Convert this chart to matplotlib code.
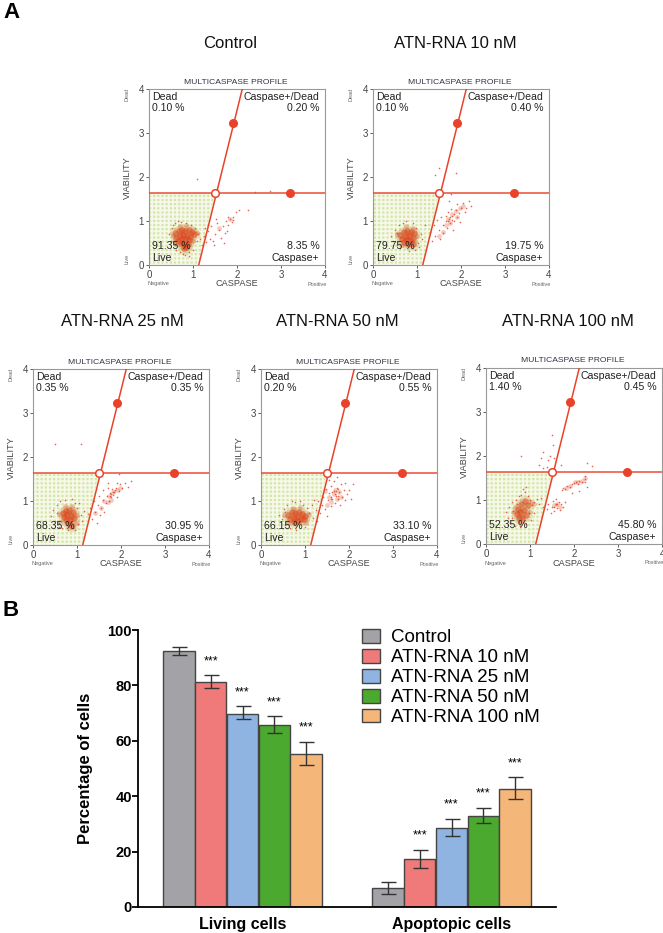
#!/usr/bin/env python3
import matplotlib
matplotlib.use("Agg")
import matplotlib.pyplot as plt
from matplotlib.patches import Polygon

plt.rcParams['font.family'] = ['Liberation Sans', 'DejaVu Sans']
plt.rcParams['hatch.linewidth'] = 1.3

WIDTH = 663
HEIGHT = 933

RED = '#e8432a'
DOT = '#e2401f'

# flow cytometry panels: dense core, thinner part of the clouds, then the loose events
control_core = [(.6, .72), (.68, .78), (.75, .8), (.82, .78), (.9, .8), (.98, .76), (1.02, .7),
                (.62, .62), (.7, .66), (.78, .68), (.86, .66), (.94, .64), (.66, .55), (.74, .58),
                (.82, .6), (.9, .56), (.72, .5), (.8, .48), (.88, .47), (.8, .38), (.85, .4)]
control_mid = [(.55, .68), (1.08, .72), (.7, .88), (.85, .9), (1.0, .55), (.6, .5), (1.85, 1.05), (1.6, .85)]
control_loose = [(.45, .7), (.5, .55), (.52, .85), (.55, .9), (.58, .45), (.6, .95), (.62, .35),
                 (.65, 1.0), (.7, .3), (.72, .98), (.78, .25), (.85, .95), (.9, .3), (.95, .92),
                 (1.0, .35), (1.05, .85), (1.08, .55), (1.12, .7), (1.15, .6), (.82, .22), (.9, .2),
                 (1.25, .65), (1.3, .52), (1.33, .78), (1.38, .6), (1.42, .88), (1.47, .45), (1.5, .7),
                 (1.55, .95), (1.6, .8), (1.63, .62), (1.68, .88), (1.72, .72), (1.75, 1.0), (1.8, .9),
                 (1.85, 1.05), (1.88, .98), (1.92, 1.1), (1.97, 1.2), (2.05, 1.25), (1.35, .9),
                 (1.45, .55), (1.52, 1.05), (1.7, .5), (1.28, .85), (1.2, .45), (2.25, 1.25),
                 (2.75, 1.68), (2.4, 1.65), (1.1, 1.95), (1.8, 1.1), (1.9, 1.02), (1.78, .78)]

atn10_core = [(.62, .68), (.7, .74), (.78, .78), (.86, .76), (.94, .72), (.66, .6), (.74, .64),
              (.82, .66), (.9, .62), (.7, .52), (.78, .56), (.86, .54), (.8, .47), (.9, .48)]
atn10_mid = [(.55, .7), (1.0, .65), (.75, .88), (.9, .85), (.65, .45), (1.7, 1.05), (1.8, 1.15), (1.75, .95),
             (1.88, 1.22), (1.92, 1.08), (1.65, .9), (1.6, .75), (1.98, 1.3), (2.05, 1.35), (1.5, .65)]
atn10_loose = [(.4, .65), (.45, .55), (.5, .8), (.55, .45), (.58, .9), (.62, .38), (.68, .95),
               (.75, 1.0), (.82, .32), (.9, .95), (.98, .85), (1.02, .5), (1.08, .7), (1.12, .6),
               (1.18, .9), (.95, .35), (.55, .72), (1.05, .42),
               (1.3, .75), (1.35, .55), (1.38, .9), (1.42, .65), (1.45, 1.02), (1.5, .8), (1.52, .6),
               (1.55, 1.1), (1.58, .92), (1.6, .72), (1.65, 1.0), (1.68, .85), (1.7, 1.2), (1.72, 1.05),
               (1.75, .95), (1.78, 1.28), (1.8, 1.12), (1.82, .8), (1.85, 1.0), (1.88, 1.25), (1.9, 1.1),
               (1.92, 1.38), (1.95, 1.18), (1.98, .98), (2.0, 1.3), (2.05, 1.42), (2.08, 1.2), (2.12, 1.3),
               (2.18, 1.45), (2.22, 1.35), (1.72, 1.45), (1.78, 1.62), (1.5, 2.2), (1.42, 2.05),
               (1.88, 2.1), (1.7, 1.0), (1.74, 1.1), (1.66, 1.12), (1.8, 1.02), (1.84, 1.15)]

atn25_core = [(.68, .72), (.75, .78), (.82, .8), (.9, .74), (.7, .64), (.78, .68), (.86, .66),
              (.94, .62), (.76, .56), (.84, .56), (.82, .47), (.88, .44)]
atn25_mid = [(.58, .7), (1.0, .68), (.72, .88), (.88, .88), (.62, .52), (1.0, .5), (1.72, 1.12), (1.82, 1.2),
             (1.9, 1.24), (1.62, 1.0), (1.7, .98), (1.55, .85), (1.98, 1.3), (1.78, 1.02), (1.42, .72)]
atn25_loose = [(.42, .65), (.45, .8), (.5, .55), (.55, .9), (.58, .42), (.62, 1.0), (.65, .38),
               (.72, 1.02), (.8, .35), (.88, 1.05), (.95, .95), (1.0, .85), (1.02, .48), (1.08, .68),
               (1.12, .55), (1.15, .78), (.95, .35), (.55, .72), (.6, .5), (1.05, .95),
               (1.25, .7), (1.3, .85), (1.35, .6), (1.38, 1.0), (1.42, .75), (1.45, .5), (1.48, .92),
               (1.5, 1.12), (1.52, .68), (1.55, .85), (1.58, 1.02), (1.6, 1.25), (1.62, .75), (1.65, .95),
               (1.68, 1.12), (1.7, 1.3), (1.72, 1.0), (1.75, 1.18), (1.78, 1.08), (1.8, 1.28), (1.82, 1.14),
               (1.85, 1.2), (1.88, 1.3), (1.9, 1.1), (1.95, 1.22), (1.98, 1.38), (2.02, 1.3), (2.08, 1.42),
               (2.15, 1.32), (2.22, 1.45), (1.7, 1.4), (1.9, 1.42), (1.08, 2.3), (.5, 2.3), (1.95, 1.62),
               (1.78, 1.15), (1.82, 1.2), (1.74, 1.12), (1.86, 1.25)]

atn50_core = [(.62, .68), (.7, .74), (.78, .72), (.86, .74), (.94, .7), (1.0, .66), (.66, .6),
              (.74, .62), (.82, .64), (.9, .6), (.98, .58), (.76, .52), (.84, .54)]
atn50_mid = [(.52, .68), (1.08, .7), (.72, .85), (.88, .86), (.62, .5), (1.02, .5), (1.55, 1.1), (1.65, 1.15),
             (1.72, 1.05), (1.6, .98), (1.78, 1.2), (1.68, 1.25), (1.5, .92), (1.82, 1.08), (1.45, 1.22)]
atn50_loose = [(.42, .68), (.48, .58), (.52, .82), (.55, .45), (.6, .92), (.65, .38), (.7, 1.0),
               (.78, .98), (.8, .35), (.88, 1.0), (.95, .92), (1.0, .42), (1.05, .85), (1.1, .72),
               (1.15, .92), (1.18, .62), (1.2, 1.02), (1.25, .8), (.55, .75), (1.28, .55),
               (1.3, 1.0), (1.35, .72), (1.38, .9), (1.42, 1.1), (1.45, .82), (1.48, 1.28), (1.5, .65),
               (1.52, 1.02), (1.55, 1.18), (1.58, .88), (1.6, 1.35), (1.62, 1.05), (1.65, 1.22), (1.68, .95),
               (1.7, 1.12), (1.72, 1.3), (1.75, 1.05), (1.78, 1.2), (1.8, .9), (1.82, 1.38), (1.85, 1.1),
               (1.88, 1.25), (1.9, 1.02), (1.92, 1.42), (1.95, 1.15), (2.0, 1.25), (2.05, 1.05), (2.1, 1.38),
               (1.55, 1.48), (1.65, 1.45), (1.72, 1.55), (1.6, 1.1), (1.68, 1.15), (1.76, 1.12), (1.62, 1.2),
               (1.7, 1.22), (1.58, 1.04), (1.74, 1.28)]

atn100_core = [(.72, .8), (.8, .92), (.88, .98), (.96, .88), (.7, .68), (.78, .72), (.86, .78),
               (.82, .6), (.9, .66), (.74, .58)]
atn100_mid = [(.62, .72), (1.02, .95), (1.1, .9), (.66, .85), (1.0, .72), (.78, .48), (1.55, .88), (1.62, .92),
              (1.68, .84), (2.02, 1.4), (2.1, 1.42), (2.18, 1.44), (2.26, 1.5), (1.82, 1.28), (1.92, 1.32)]
atn100_loose = [(.45, .72), (.5, .6), (.52, .85), (.55, .48), (.58, .95), (.62, .75), (.65, .42),
                (.68, 1.0), (.72, .5), (.75, 1.08), (.78, .4), (.8, 1.12), (.85, .5), (.88, 1.18),
                (.92, .45), (.95, 1.1), (.98, .7), (1.0, 1.0), (1.02, .55), (1.05, .88), (1.08, .95),
                (1.1, .7), (1.15, 1.02), (1.2, .9), (1.25, 1.05), (1.3, .85), (.6, .6), (.7, .9),
                (.85, 1.25), (.92, 1.3), (1.38, .8), (1.42, .9), (1.48, .7), (1.5, .85), (1.52, .98),
                (1.55, .75), (1.58, .9), (1.6, 1.02), (1.62, .82), (1.65, .95), (1.68, .78), (1.7, .9),
                (1.75, .85), (1.8, .95), (1.55, .85), (1.62, .92),
                (1.72, 1.22), (1.76, 1.28), (1.8, 1.25), (1.85, 1.32), (1.9, 1.3), (1.95, 1.36), (2.0, 1.38),
                (2.04, 1.42), (2.08, 1.36), (2.12, 1.44), (2.18, 1.42), (2.25, 1.48), (2.26, 1.55),
                (2.24, 1.42), (2.3, 1.3), (1.95, 1.15), (2.12, 1.2),
                (1.2, 1.8), (1.25, 1.95), (1.3, 2.1), (1.38, 1.75), (1.42, 1.9), (1.45, 2.0), (1.3, 1.72),
                (1.52, 2.25), (1.5, 2.48), (1.55, 1.95), (.8, 2.0), (1.7, 1.8), (2.3, 1.85), (2.42, 1.78)]

panel_titles = ["Control", "ATN-RNA 10 nM", "ATN-RNA 25 nM", "ATN-RNA 50 nM", "ATN-RNA 100 nM"]
panel_core = [control_core, atn10_core, atn25_core, atn50_core, atn100_core]
panel_mid = [control_mid, atn10_mid, atn25_mid, atn50_mid, atn100_mid]
panel_loose = [control_loose, atn10_loose, atn25_loose, atn50_loose, atn100_loose]
dead_pct = ["0.10 %", "0.10 %", "0.35 %", "0.20 %", "1.40 %"]
late_pct = ["0.20 %", "0.40 %", "0.35 %", "0.55 %", "0.45 %"]
live_pct = ["91.35 %", "79.75 %", "68.35 %", "66.15 %", "52.35 %"]
early_pct = ["8.35 %", "19.75 %", "30.95 %", "33.10 %", "45.80 %"]

# left edge and top edge of every gate plot, pixels
panel_left = [149, 373, 33, 261, 486]
panel_top = [89, 89, 369, 369, 368]
title_centre = [230, 455, 122, 337, 568]
title_y = [43, 43, 322, 322, 322]

# bar chart
bar_labels = ["Control", "ATN-RNA 10 nM", "ATN-RNA 25 nM", "ATN-RNA 50 nM", "ATN-RNA 100 nM"]
bar_colors = ['#a3a2a6', '#f07a79', '#8fb4e2', '#4aa92e', '#f4b779']
groups = ["Living cells", "Apoptopic cells"]
living = [92.3, 81.4, 69.8, 65.7, 55.2]
living_low = [91.0, 79.0, 67.7, 62.7, 51.1]
living_high = [93.9, 83.8, 72.4, 69.0, 59.7]
apoptotic = [6.7, 17.3, 28.5, 32.8, 42.7]
apoptotic_low = [4.8, 14.0, 25.5, 30.2, 38.9]
apoptotic_high = [8.9, 20.7, 31.9, 35.9, 47.0]
significant = [False, True, True, True, True]


def px_axes(fig, left, top, right, bottom):
    return fig.add_axes([left / WIDTH, 1 - bottom / HEIGHT, (right - left) / WIDTH, (bottom - top) / HEIGHT])


def px_text(fig, x, y, s, **kw):
    fig.text(x / WIDTH, 1 - y / HEIGHT, s, **kw)


def gate_panel(fig, i):
    left, top = panel_left[i], panel_top[i]
    ax = px_axes(fig, left, top, left + 176, top + 176)
    ax.set_xlim(0, 4)
    ax.set_ylim(0, 4)
    ax.set_xticks([0, 1, 2, 3, 4])
    ax.set_yticks([0, 1, 2, 3, 4])
    ax.tick_params(labelsize=7, length=2, width=0.6, pad=1.5, colors='#444444')
    for side in ax.spines:
        ax.spines[side].set_linewidth(0.8)
        ax.spines[side].set_color('#999999')

    ax.add_patch(Polygon([(0, 0), (1.13, 0), (1.5, 1.63), (0, 1.63)], facecolor='#d6e5ab',
                         edgecolor='#f6f9ea', hatch='++++', linewidth=0, zorder=1))

    core_x, core_y = zip(*panel_core[i])
    mid_x, mid_y = zip(*panel_mid[i])
    loose_x, loose_y = zip(*panel_loose[i])
    ax.scatter(core_x, core_y, s=70, color='#c9a05a', alpha=0.28, linewidths=0, zorder=2)
    ax.scatter(core_x, core_y, s=22, color=DOT, alpha=0.5, linewidths=0, zorder=2)
    ax.scatter(mid_x, mid_y, s=12, color=DOT, alpha=0.28, linewidths=0, zorder=2)
    ax.scatter(loose_x, loose_y, s=1.4, color=DOT, alpha=0.8, linewidths=0, zorder=2)

    ax.plot([1.13, 2.12], [0, 4], color=RED, lw=1.1, zorder=3)
    ax.axhline(1.63, color=RED, lw=1.3, alpha=0.8, zorder=3)
    ax.plot([1.9, 3.2], [3.23, 1.63], ls='none', marker='o', ms=6.5, color=RED, mew=0, zorder=4)
    ax.plot([1.5], [1.63], ls='none', marker='o', ms=5.5, mfc='white', mec=RED, mew=1.1, zorder=4)

    tc = '#222222'
    ax.text(0.06, 3.82, "Dead", fontsize=7.6, color=tc, va='center')
    ax.text(0.06, 3.57, dead_pct[i], fontsize=7.6, color=tc, va='center')
    ax.text(3.87, 3.82, "Caspase+/Dead", fontsize=7.6, color=tc, va='center', ha='right')
    ax.text(3.87, 3.57, late_pct[i], fontsize=7.6, color=tc, va='center', ha='right')
    ax.text(0.06, 0.43, live_pct[i], fontsize=7.6, color=tc, va='center', zorder=5)
    ax.text(0.06, 0.16, "Live", fontsize=7.6, color=tc, va='center', zorder=5)
    ax.text(3.87, 0.43, early_pct[i], fontsize=7.6, color=tc, va='center', ha='right')
    ax.text(3.87, 0.16, "Caspase+", fontsize=7.6, color=tc, va='center', ha='right')

    px_text(fig, left + 87, top - 7, "MULTICASPASE PROFILE", fontsize=6.1, color='#333344', ha='center', va='center')
    px_text(fig, left - 22, top + 89, "VIABILITY", fontsize=6.6, color='#444444', rotation=90, ha='center', va='center')
    px_text(fig, left - 22, top + 5, "Dead", fontsize=4, color='#666666', rotation=90, ha='center', va='center')
    px_text(fig, left - 22, top + 170, "Live", fontsize=4, color='#666666', rotation=90, ha='center', va='center')
    px_text(fig, left + 88, top + 195, "CASPASE", fontsize=6.6, color='#444444', ha='center', va='center')
    px_text(fig, left + 9, top + 195, "Negative", fontsize=4, color='#666666', ha='center', va='center')
    px_text(fig, left + 168, top + 195, "Positive", fontsize=4, color='#666666', ha='center', va='center')
    px_text(fig, title_centre[i], title_y[i], panel_titles[i], fontsize=12, color='#111111', ha='center', va='center')


def bar_panel(fig):
    ax = px_axes(fig, 138, 630, 556, 907)
    width = 0.152
    handles = []
    for i in range(5):
        offset = (i - 2) * width
        means = [living[i], apoptotic[i]]
        lows = [living[i] - living_low[i], apoptotic[i] - apoptotic_low[i]]
        highs = [living_high[i] - living[i], apoptotic_high[i] - apoptotic[i]]
        bars = ax.bar([offset, 1 + offset], means, width * 0.98, color=bar_colors[i], edgecolor='#444444',
                      linewidth=1.0, yerr=[lows, highs], ecolor='#333333', capsize=5.4,
                      error_kw={'elinewidth': 1.0, 'capthick': 1.0}, label=bar_labels[i])
        handles.append(bars)
        if significant[i]:
            ax.text(offset, living_high[i] + 5.0, "***", fontsize=9, ha='center', va='center')
            ax.text(1 + offset, apoptotic_high[i] + 5.0, "***", fontsize=9, ha='center', va='center')

    ax.set_xlim(-0.5, 1.5)
    ax.set_ylim(0, 100)
    ax.set_yticks([0, 20, 40, 60, 80, 100])
    ax.set_xticks([0, 1])
    ax.set_xticklabels(groups, fontsize=11.5, fontweight='bold')
    ax.tick_params(axis='x', length=0, pad=7)
    ax.tick_params(axis='y', length=4, width=1.3, labelsize=10.5, pad=0.5)
    for label in ax.get_yticklabels():
        label.set_fontweight('bold')
    ax.set_ylabel("Percentage of cells", fontsize=12, fontweight='bold', labelpad=10)
    ax.spines['top'].set_visible(False)
    ax.spines['right'].set_visible(False)
    ax.spines['left'].set_linewidth(1.3)
    ax.spines['bottom'].set_linewidth(1.3)

    fig.legend(handles=handles, loc='upper left', bbox_to_anchor=(362 / WIDTH, 1 - 629 / HEIGHT), frameon=False,
               fontsize=13.5, handlelength=0.96, handleheight=0.75, handletextpad=0.6, labelspacing=0.135,
               borderpad=0, borderaxespad=0)


def main() -> None:
    fig = plt.figure(figsize=(WIDTH / 100, HEIGHT / 100), dpi=100)
    for i in range(5):
        gate_panel(fig, i)
    bar_panel(fig)
    px_text(fig, 3, 13, "A", fontsize=16, fontweight='bold', va='center')
    px_text(fig, 3, 610, "B", fontsize=16, fontweight='bold', va='center')
    fig.savefig("out.png", dpi=100)


if __name__ == '__main__':
    main()
